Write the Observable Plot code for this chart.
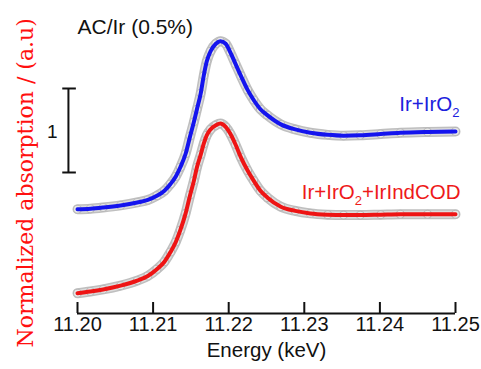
<!DOCTYPE html>
<html>
<head>
<meta charset="utf-8">
<script src="https://cdn.jsdelivr.net/npm/d3@7"></script>
<script src="https://cdn.jsdelivr.net/npm/@observablehq/plot@0.6"></script>
<style>
  html, body { margin: 0; padding: 0; background: #fff; }
  #chart svg { display: block; }
</style>
</head>
<body>
<div id="chart"></div>
<script>
// Energy grid (keV)
const energy = [11.2000, 11.2017, 11.2034, 11.2057, 11.2079, 11.2093, 11.2105, 11.2115, 11.2123, 11.2130,
  11.2136, 11.2143, 11.2149, 11.2154, 11.2158, 11.2163, 11.2167, 11.2171, 11.2176, 11.2183,
  11.2189, 11.2196, 11.2202, 11.2209, 11.2216, 11.2225, 11.2233, 11.2242, 11.2251, 11.2269,
  11.2288, 11.2308, 11.2331, 11.2352, 11.2374, 11.2401, 11.2427, 11.2463, 11.2500];

// Normalized absorption (a.u), before vertical offset
const irIrO2 = [0, 0.006, 0.02, 0.045, 0.08, 0.11, 0.16, 0.22, 0.30, 0.39,
  0.50, 0.66, 0.87, 1.04, 1.19, 1.38, 1.59, 1.76, 1.88, 1.97,
  2.00, 1.97, 1.87, 1.73, 1.59, 1.42, 1.30, 1.19, 1.12, 1.01,
  0.95, 0.91, 0.885, 0.875, 0.88, 0.895, 0.91, 0.92, 0.925];

const irIrO2IrIndCOD = [0, 0.02, 0.045, 0.09, 0.15, 0.205, 0.285, 0.375, 0.49, 0.61,
  0.75, 0.95, 1.17, 1.34, 1.50, 1.65, 1.78, 1.88, 1.95, 2.00,
  2.02, 1.98, 1.90, 1.77, 1.62, 1.46, 1.34, 1.22, 1.14, 1.03,
  0.98, 0.95, 0.935, 0.93, 0.93, 0.935, 0.94, 0.94, 0.94];

const seriesNames = ["Ir+IrO₂", "Ir+IrO₂+IrIndCOD"];
const seriesOffsets = [1, 0];
const seriesColors = ["#1414ee", "#ee1414"];
const labelColors = ["#2020dd", "#ee1a1a"];
const labelPos = [{x: 11.25053, y: 2.248}, {x: 11.25066, y: 1.200}];

const xTicks = [11.20, 11.21, 11.22, 11.23, 11.24, 11.25];
const xTickLabels = ["11.20", "11.21", "11.22", "11.23", "11.24", "11.25"];

const title = "AC/Ir (0.5%)";
const xLabel = "Energy (keV)";
const yLabel = "Normalized absorption / (a.u)";
const scaleBar = {x: 11.1988, y1: 1.437, y2: 2.437, x1: 11.19805, x2: 11.19985, label: "1"};

const yDomain = [-0.2417, 3.3655];

// build table
const seriesValues = [irIrO2, irIrO2IrIndCOD];
const rows = [];
seriesNames.forEach((name, s) => {
  energy.forEach((e, i) => rows.push({series: name, idx: s, energy: e, value: seriesValues[s][i] + seriesOffsets[s]}));
});

const bySeries = s => rows.filter(d => d.idx === s);
const curve = "monotone-x";

const marks = [];
// grey band of data points
marks.push(Plot.line(rows, {x: "energy", y: "value", z: "series", stroke: "#bfbfbf", strokeWidth: 10, curve}));
marks.push(Plot.line(rows, {x: "energy", y: "value", z: "series", stroke: "#dcdcdc", strokeWidth: 7, curve}));
marks.push(Plot.dot(rows, {x: "energy", y: "value", r: 4, stroke: "#b8b8b8", strokeWidth: 1.1, fill: "#e8e8e8"}));
// fitted lines
seriesNames.forEach((name, s) => {
  marks.push(Plot.line(bySeries(s), {x: "energy", y: "value", stroke: seriesColors[s], strokeWidth: 4, curve}));
});
// series labels
seriesNames.forEach((name, s) => {
  marks.push(Plot.text([labelPos[s]], {x: "x", y: "y", text: () => name, textAnchor: "end", fill: labelColors[s], fontSize: 20.5}));
});
// x axis line, ticks (pointing up) and labels
marks.push(Plot.ruleY([yDomain[0]], {stroke: "#111", strokeWidth: 2}));
marks.push(Plot.ruleX(xTicks, {x: d => d, y1: yDomain[0], y2: yDomain[0] + 11 / 84, stroke: "#111", strokeWidth: 2}));
marks.push(Plot.text(xTicks, {x: d => d, text: (d, i) => xTickLabels[i], frameAnchor: "bottom", dy: 17, fontSize: 20, fill: "#111"}));
marks.push(Plot.text([xLabel], {text: d => d, frameAnchor: "bottom", dy: 43, fontSize: 20.5, fill: "#111"}));
// title
marks.push(Plot.text([title], {x: () => 11.2000, y: () => 3.171, text: d => d, textAnchor: "start", fontSize: 21, fill: "#111"}));
// scale bar
marks.push(Plot.ruleX([scaleBar], {x: "x", y1: "y1", y2: "y2", stroke: "#111", strokeWidth: 2}));
marks.push(Plot.ruleY([scaleBar.y1, scaleBar.y2], {y: d => d, x1: scaleBar.x1, x2: scaleBar.x2, stroke: "#111", strokeWidth: 2}));
marks.push(Plot.text([scaleBar], {x: () => 11.19735, y: () => 1.919, text: "label", textAnchor: "end", fontSize: 19, fill: "#111"}));
// y label
marks.push(Plot.text([yLabel], {x: () => 11.19405, y: () => -0.646, text: d => d, rotate: -90, textAnchor: "start", lineAnchor: "bottom", fontSize: 22, fontFamily: "DejaVu Serif", fill: "#ff1010"}));

const chart = Plot.plot({
  width: 481,
  height: 369,
  marginLeft: 77,
  marginRight: 26,
  marginTop: 10,
  marginBottom: 56,
  x: {domain: [11.20, 11.25], axis: null},
  y: {domain: yDomain, axis: null},
  style: {fontFamily: "'Liberation Sans', Arial, sans-serif", background: "#fff", overflow: "visible"},
  marks
});

// render subscript 2 as a real lowered digit
chart.querySelectorAll("text").forEach(t => {
  if (t.children.length === 0 && t.textContent.includes("₂")) {
    const parts = t.textContent.split("₂");
    t.textContent = "";
    const ns = "http://www.w3.org/2000/svg";
    parts.forEach((p, i) => {
      if (i > 0) {
        const sub = document.createElementNS(ns, "tspan");
        sub.setAttribute("font-size", "13");
        sub.setAttribute("dy", "6");
        sub.textContent = "2";
        t.appendChild(sub);
      }
      if (p) {
        const sp = document.createElementNS(ns, "tspan");
        if (i > 0) sp.setAttribute("dy", "-6");
        sp.textContent = p;
        t.appendChild(sp);
      }
    });
  }
});

document.getElementById("chart").appendChild(chart);
</script>
</body>
</html>
